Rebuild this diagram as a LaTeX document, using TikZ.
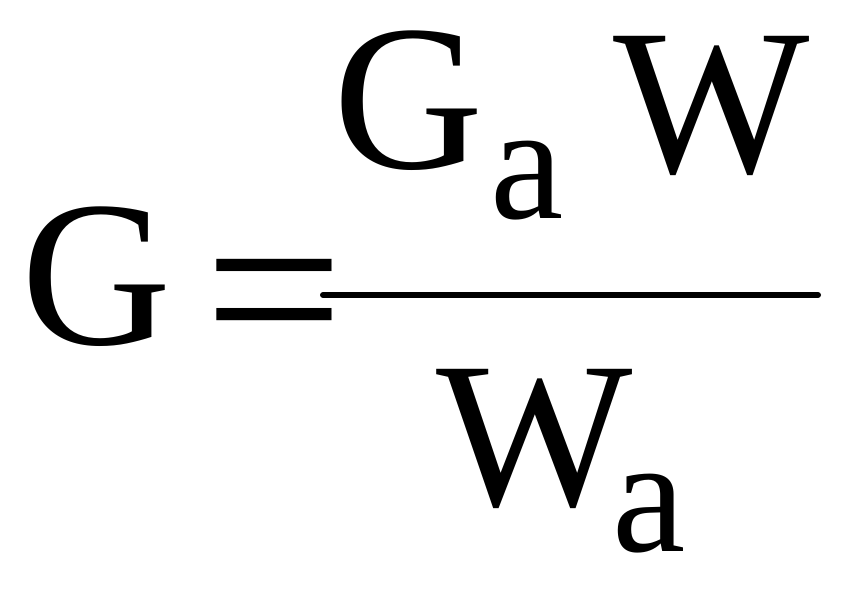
\documentclass[tikz,border=0pt]{standalone}
\usepackage{fontspec}
\usepackage{graphicx}
\setmainfont{Liberation Serif}
\begin{document}
\begin{tikzpicture}[x=1pt,y=-1pt,
  big/.style={inner sep=0pt,outer sep=0pt,anchor=base west,font=\fontsize{208}{208}\selectfont},
  sub/.style={inner sep=0pt,outer sep=0pt,anchor=base west,font=\fontsize{165}{165}\selectfont}]
\useasboundingbox (0,0) rectangle (848,590);
\node[big] (G) at (21,344) {G};
\node[big] (eq) at (204.5,371.5) {\scalebox{1.19}[1.18]{=}};
\node[big] (Gn) at (333,168) {G};
\node[sub] (an) at (490,218) {a};
\node[big] (Wn) at (613,172) {W};
\node[big] (Wd) at (436,505) {W};
\node[sub] (ad) at (612,551) {a};
\coordinate (fl) at (323,295);
\coordinate (fr) at (818,295);
\draw[line width=6pt,line cap=round] (fl) -- (fr);
\end{tikzpicture}
\end{document}
